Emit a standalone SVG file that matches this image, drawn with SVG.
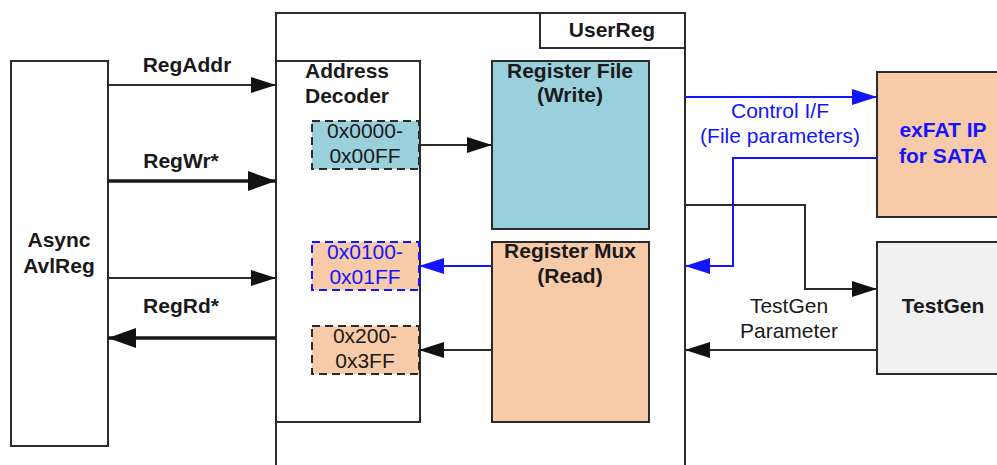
<svg xmlns="http://www.w3.org/2000/svg" width="997" height="465" viewBox="0 0 997 465">
<style>
  .box { stroke: #2b2b2b; stroke-width: 2; }
  .ln { stroke: #2b2b2b; stroke-width: 2; fill: none; }
  .thk { stroke: #1a1a1a; stroke-width: 3.5; fill: none; }
  .bl { stroke: #1414ff; stroke-width: 2; fill: none; }
  .dash { stroke: #2b2b2b; stroke-width: 2; stroke-dasharray: 8 5; }
  .dashb { stroke: #1414ff; stroke-width: 2; stroke-dasharray: 8 5; }
  text { font-family: "Liberation Sans", Arial, sans-serif; font-size: 21px; fill: #1a1a1a; text-anchor: middle; }
  .b { font-weight: bold; }
  .blue { fill: #1414ff; }
</style>
<defs>
  <marker id="ah" markerUnits="userSpaceOnUse" markerWidth="26" markerHeight="18" refX="25" refY="8" orient="auto">
    <path d="M0,0 L25,8 L0,16 Z" fill="#111"/>
  </marker>
  <marker id="ahT" markerUnits="userSpaceOnUse" markerWidth="29" markerHeight="22" refX="28" refY="10" orient="auto">
    <path d="M0,0 L28,10 L0,20 Z" fill="#111"/>
  </marker>
  <marker id="ahB" markerUnits="userSpaceOnUse" markerWidth="26" markerHeight="18" refX="25" refY="8" orient="auto">
    <path d="M0,0 L25,8 L0,16 Z" fill="#1414ff"/>
  </marker>
</defs>

<g id="userreg">
  <path class="ln" d="M276,480 L276,13 L685,13 L685,480"/>
  <rect class="box" x="540" y="13" width="145" height="35" fill="#fff"/>
  <text class="b" x="612" y="37">UserReg</text>
</g>

<g id="asyncavlreg">
  <rect class="box" x="11" y="61" width="97" height="385" fill="#fff"/>
  <text class="b" x="59" y="247">Async</text>
  <text class="b" x="59" y="273">AvlReg</text>
</g>

<g id="addrdecoder">
  <rect class="box" x="276" y="61" width="144" height="361" fill="#fff"/>
  <text class="b" x="347" y="78">Address</text>
  <text class="b" x="347" y="103">Decoder</text>
</g>

<g id="range0">
  <rect class="dash" x="312" y="121" width="107" height="48" fill="#9acfdc"/>
  <text x="365" y="138">0x0000-</text>
  <text x="365" y="163">0x00FF</text>
</g>

<g id="range1">
  <rect class="dashb" x="312" y="242" width="107" height="48" fill="#f8cba8"/>
  <text class="blue" x="365" y="259">0x0100-</text>
  <text class="blue" x="365" y="284">0x01FF</text>
</g>

<g id="range2">
  <rect class="dash" x="312" y="326" width="107" height="48" fill="#f8cba8"/>
  <text x="365" y="343">0x200-</text>
  <text x="365" y="368">0x3FF</text>
</g>

<g id="regfile">
  <rect class="box" x="492" y="61" width="157" height="168" fill="#9acfdc"/>
  <text class="b" x="570" y="78">Register File</text>
  <text class="b" x="570" y="102">(Write)</text>
</g>

<g id="regmux">
  <rect class="box" x="492" y="242" width="157" height="180" fill="#f8cba8"/>
  <text class="b" x="570" y="258">Register Mux</text>
  <text class="b" x="570" y="283">(Read)</text>
</g>

<g id="exfat">
  <rect class="box" x="877" y="72" width="140" height="145" fill="#f8cba8"/>
  <text class="b blue" x="943" y="137">exFAT IP</text>
  <text class="b blue" x="943" y="163">for SATA</text>
</g>

<g id="testgen">
  <rect class="box" x="877" y="242" width="140" height="132" fill="#f0f0f0"/>
  <text class="b" x="943" y="313">TestGen</text>
</g>

<g id="connectors">
  <line class="ln" x1="108" y1="85" x2="276" y2="85" marker-end="url(#ah)"/>
  <line class="thk" x1="108" y1="181" x2="276" y2="181" marker-end="url(#ahT)"/>
  <line class="ln" x1="108" y1="278" x2="276" y2="278" marker-end="url(#ah)"/>
  <line class="thk" x1="276" y1="338" x2="108" y2="338" marker-end="url(#ahT)"/>
  <line class="ln" x1="419" y1="145" x2="492" y2="145" marker-end="url(#ah)"/>
  <line class="bl" x1="492" y1="266" x2="419" y2="266" marker-end="url(#ahB)"/>
  <line class="ln" x1="492" y1="350" x2="419" y2="350" marker-end="url(#ah)"/>
  <line class="bl" x1="685" y1="97" x2="877" y2="97" marker-end="url(#ahB)"/>
  <polyline class="bl" points="877,158 733,158 733,266 685,266" marker-end="url(#ahB)"/>
  <polyline class="ln" points="685,205 805,205 805,289 877,289" marker-end="url(#ah)"/>
  <line class="ln" x1="877" y1="350" x2="685" y2="350" marker-end="url(#ah)"/>
  <text class="b" x="187" y="72">RegAddr</text>
  <text class="b" x="181" y="168">RegWr*</text>
  <text class="b" x="181" y="313">RegRd*</text>
  <text class="blue" x="780" y="118">Control I/F</text>
  <text class="blue" x="780" y="143">(File parameters)</text>
  <text x="789" y="313">TestGen</text>
  <text x="789" y="338">Parameter</text>
</g>
</svg>
